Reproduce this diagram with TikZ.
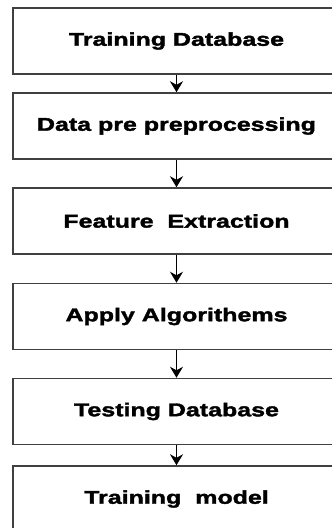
\documentclass[tikz,border=0pt]{standalone}
\usepackage{fontspec}
\setmainfont{Liberation Sans}
\newfontfamily\heavyfont[FakeStretch=1.35,FakeBold=2]{Liberation Sans Bold}
\usetikzlibrary{arrows.meta}

\begin{document}
\begin{tikzpicture}[x=1pt,y=-1pt,
  stage node/.style={rectangle,draw=black!75,line width=1.5pt,minimum width=327pt,minimum height=66pt,inner sep=0pt,font=\heavyfont\fontsize{18.5}{22}\selectfont},
  flow/.style={-{Stealth[length=11pt,width=13pt]},line width=1.3pt}]

  \useasboundingbox (0,0) rectangle (332,528);

  \node[stage node] (n0) at (176.5,41) {Training Database};
  \node[stage node] (n1) at (176.5,126) {Data pre preprocessing};
  \node[stage node] (n2) at (176.5,221) {Feature\ \ Extraction};
  \node[stage node] (n3) at (176.5,316.5) {Apply Algorithems};
  \node[stage node] (n4) at (176.5,411.5) {Testing Database};
  \node[stage node] (n5) at (176.5,499) {Training\ \ model};

  \path (n0) edge[flow] (n1);
  \path (n1) edge[flow] (n2);
  \path (n2) edge[flow] (n3);
  \path (n3) edge[flow] (n4);
  \path (n4) edge[flow] (n5);
\end{tikzpicture}
\end{document}
